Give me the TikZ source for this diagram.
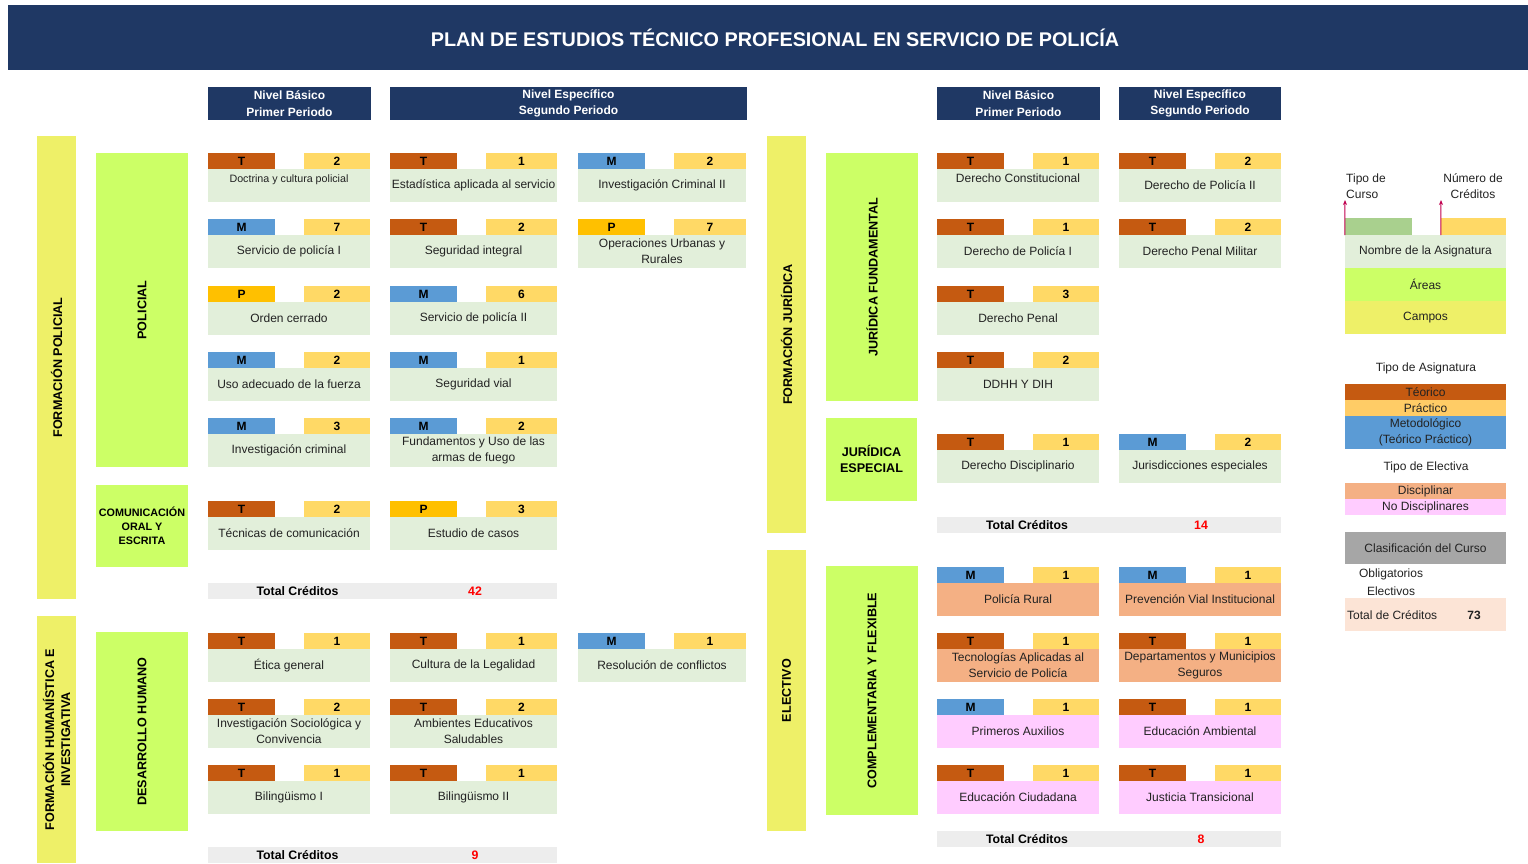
\documentclass[tikz,border=0pt]{standalone}
\usepackage{fontspec}
\setmainfont{Liberation Sans}
\usepackage{tikz}
\usetikzlibrary{arrows.meta}

\definecolor{navy}{HTML}{1F3864}
\definecolor{tipoT}{HTML}{C55A11}
\definecolor{tipoM}{HTML}{5B9BD5}
\definecolor{tipoP}{HTML}{FFC000}
\definecolor{colCred}{HTML}{FFD966}
\definecolor{colPrac}{HTML}{FFCC66}
\definecolor{colCuerpo}{HTML}{E2EFDA}
\definecolor{colArea}{HTML}{CCFF66}
\definecolor{colCampo}{HTML}{EEF068}
\definecolor{colDisc}{HTML}{F4B084}
\definecolor{colNoDisc}{HTML}{FFCCFF}
\definecolor{colGris}{HTML}{A6A6A6}
\definecolor{colTotal}{HTML}{EDEDED}
\definecolor{colVerdeT}{HTML}{A9D08E}
\definecolor{colPeach}{HTML}{FCE4D6}
\definecolor{colFlecha}{HTML}{C0004F}
\definecolor{texto}{HTML}{222222}

\tikzset{
  tag/.style={rectangle, minimum height=16, inner sep=0, text=black, font=\bfseries\fontsize{12}{13}\selectfont},
  cuerpo/.style={rectangle, minimum height=33, inner sep=0, align=center, text=texto, font=\fontsize{12}{16}\selectfont},
  arriba/.style={text height=8pt, text depth=14pt},
  campo/.style={fill=colCampo, inner sep=0, align=center, font=\bfseries\fontsize{12.6}{16}\selectfont},
  area/.style={fill=colArea, inner sep=0, align=center, font=\bfseries\fontsize{12.6}{16}\selectfont},
  encabezado/.style={fill=navy, text=white, minimum height=33, inner sep=0, align=center, font=\bfseries\fontsize{12}{16.5}\selectfont},
  totalbar/.style={fill=colTotal, minimum height=16, inner sep=0},
  totaltxt/.style={inner sep=0, font=\bfseries\fontsize{12.3}{13}\selectfont},
  totalnum/.style={totaltxt, text=red},
  leyenda/.style={rectangle, minimum width=161, inner sep=0, align=center, text=texto, font=\fontsize{12}{16.5}\selectfont},
  nota/.style={inner sep=0, align=center, text=texto, font=\fontsize{12}{16}\selectfont},
  flecha/.style={-{Stealth[length=5pt,width=4pt]}, draw=colFlecha, line width=1pt}
}

% card: [extra]{name}{x}{y}{width}{type}{credits}{subject}{body colour}
\newcommand{\curso}[9][]{%
  \node[tag, fill=tipo#6, minimum width=67] (#2t) at (#3+33.5,#4+8) {#6};
  \node[tag, fill=colCred, minimum width=#5-96] (#2c) at (#3+48+#5/2,#4+8) {#7};
  \node[cuerpo, fill=#9, minimum width=#5, #1] (#2b) at (#3+#5/2,#4+32.5) {#8};
}

\begin{document}
\begin{tikzpicture}[x=1pt,y=-1pt]
\useasboundingbox (0,0) rectangle (1528,863);

% Title
\node[fill=navy, minimum width=1520, minimum height=65, inner sep=0] (titulo) at (768,37.5) {};
\node[text=white, inner sep=0, font=\bfseries\fontsize{19.8}{22}\selectfont] (tituloTxt) at (775,38)
  {PLAN DE ESTUDIOS TÉCNICO PROFESIONAL EN SERVICIO DE POLICÍA};

% Period headers
\foreach \nom/\cx/\w/\txt in {h1/289.5/163/{Nivel Básico\\Primer Periodo}, h2/568.5/357/{Nivel Específico\\Segundo Periodo},
  h3/1018.5/163/{Nivel Básico\\Primer Periodo}, h4/1200/162/{Nivel Específico\\Segundo Periodo}}
  \node[encabezado, minimum width=\w] (\nom) at (\cx,103.5) {\txt};

% Campos
\foreach \nom/\cx/\cy/\l/\txt in {fpol/56.5/367.5/463/{FORMACIÓN POLICIAL}, fhum/56.5/739.5/247/{FORMACIÓN HUMANÍSTICA E\\INVESTIGATIVA},
  fjur/786.5/334.5/397/{FORMACIÓN JURÍDICA}, elec/786.5/690.5/281/{ELECTIVO}}
  \node[campo, rotate=90, minimum width=\l, minimum height=39] (\nom) at (\cx,\cy) {\txt};

% Areas
\foreach \nom/\cx/\cy/\l/\txt in {pol/142/310/314/{POLICIAL}, dhum/142/731.5/199/{DESARROLLO HUMANO},
  jfun/872/277/248/{JURÍDICA FUNDAMENTAL}, comp/872/690.5/249/{COMPLEMENTARIA Y FLEXIBLE}}
  \node[area, rotate=90, minimum width=\l, minimum height=92] (\nom) at (\cx,\cy) {\txt};
\node[area, minimum width=92, minimum height=82, font=\bfseries\fontsize{10.8}{14}\selectfont] (com) at (142,525.5) {COMUNICACIÓN\\ORAL Y\\ESCRITA};
\node[area, minimum width=91, minimum height=83] (jesp) at (871.5,459) {JURÍDICA\\ESPECIAL};

% Policial
\curso[arriba, font=\fontsize{10.7}{12}\selectfont]{doc}{208}{153}{162}{T}{2}{Doctrina y cultura policial}{colCuerpo}
\foreach \nom/\x/\y/\w/\tp/\cred/\txt in {
  est/390/153/167/T/1/{Estadística aplicada al servicio},
  icr/578/153/168/M/2/{Investigación Criminal II},
  sp1/208/219/162/M/7/{Servicio de policía I},
  seg/390/219/167/T/2/{Seguridad integral},
  our/578/219/168/P/7/{Operaciones Urbanas y\\Rurales},
  orc/208/286/162/P/2/{Orden cerrado},
  sp2/390/286/167/M/6/{Servicio de policía II},
  uso/208/352/162/M/2/{Uso adecuado de la fuerza},
  svi/390/352/167/M/1/{Seguridad vial},
  inv/208/418/162/M/3/{Investigación criminal},
  fun/390/418/167/M/2/{Fundamentos y Uso de las\\armas de fuego},
  tec/208/501/162/T/2/{Técnicas de comunicación},
  cas/390/501/167/P/3/{Estudio de casos}}
  {\curso{\nom}{\x}{\y}{\w}{\tp}{\cred}{\txt}{colCuerpo}}

% Desarrollo humano
\foreach \nom/\x/\y/\w/\tp/\cred/\txt in {
  eti/208/633/162/T/1/{Ética general},
  cul/390/633/167/T/1/{Cultura de la Legalidad},
  res/578/633/168/M/1/{Resolución de conflictos},
  soc/208/699/162/T/2/{Investigación Sociológica y\\Convivencia},
  amb/390/699/167/T/2/{Ambientes Educativos\\Saludables},
  bi1/208/765/162/T/1/{Bilingüismo I},
  bi2/390/765/167/T/1/{Bilingüismo II}}
  {\curso{\nom}{\x}{\y}{\w}{\tp}{\cred}{\txt}{colCuerpo}}

% Juridica
\curso[arriba]{dco}{937}{153}{162}{T}{1}{Derecho Constitucional}{colCuerpo}
\foreach \nom/\x/\y/\tp/\cred/\txt in {
  dp2/1119/153/T/2/{Derecho de Policía II},
  dp1/937/219/T/1/{Derecho de Policía I},
  dpm/1119/219/T/2/{Derecho Penal Militar},
  dpe/937/286/T/3/{Derecho Penal},
  ddh/937/352/T/2/{DDHH Y DIH},
  ddi/937/434/T/1/{Derecho Disciplinario},
  jur/1119/434/M/2/{Jurisdicciones especiales}}
  {\curso{\nom}{\x}{\y}{162}{\tp}{\cred}{\txt}{colCuerpo}}

% Electivas
\foreach \nom/\x/\y/\tp/\txt/\col in {
  pru/937/567/M/{Policía Rural}/colDisc,
  pvi/1119/567/M/{Prevención Vial Institucional}/colDisc,
  tap/937/633/T/{Tecnologías Aplicadas al\\Servicio de Policía}/colDisc,
  dms/1119/633/T/{Departamentos y Municipios\\Seguros}/colDisc,
  pau/937/699/M/{Primeros Auxilios}/colNoDisc,
  eam/1119/699/T/{Educación Ambiental}/colNoDisc,
  eci/937/765/T/{Educación Ciudadana}/colNoDisc,
  jtr/1119/765/T/{Justicia Transicional}/colNoDisc}
  {\curso{\nom}{\x}{\y}{162}{\tp}{1}{\txt}{\col}}

% Totals
\foreach \nom/\x/\y/\w/\tx/\nx/\val in {tpol/208/583/349/297.5/475/42, thum/208/847/349/297.5/475/9,
  tjur/937/517/344/1027/1201/14, telv/937/831/344/1027/1201/8}{
  \node[totalbar, minimum width=\w] (\nom) at (\x+\w/2,\y+8) {};
  \node[totaltxt] (\nom a) at (\tx,\y+8) {Total Créditos};
  \node[totalnum] (\nom b) at (\nx,\y+8) {\val};
}

% Legend
\node[leyenda, fill=colVerdeT, minimum width=67, minimum height=17] (legT) at (1378.5,226.5) {};
\node[leyenda, fill=colCred, minimum width=65, minimum height=17] (legC) at (1473.5,226.5) {};
\node[leyenda, fill=colCuerpo, minimum height=33] (legN) at (1425.5,251.5) {Nombre de la Asignatura};
\node[leyenda, fill=colArea, minimum height=33] (legA) at (1425.5,284.5) {Áreas};
\node[leyenda, fill=colCampo, minimum height=33] (legCa) at (1425.5,317.5) {Campos};
\node[nota, anchor=west, align=left] (tipoCurso) at (1346,186) {Tipo de\\Curso};
\node[nota] (numCred) at (1473,186) {Número de\\Créditos};
\coordinate (pT) at (1345,200);
\coordinate (pC) at (1441,200);
\draw[flecha] (legT.south west) -- (pT);
\draw[flecha] (legC.south west) -- (pC);

\node[nota] (tasig) at (1426,368) {Tipo de Asignatura};
\foreach \nom/\cy/\h/\col/\txt in {teo/392/16/tipoT/Téorico, pra/408/16/colPrac/Práctico,
  met/432.5/33/tipoM/{Metodológico\\(Teórico Práctico)}, dis/491/16/colDisc/Disciplinar,
  nod/507/16/colNoDisc/{No Disciplinares}, clas/548/32/colGris/{Clasificación del Curso}}
  \node[leyenda, fill=\col, minimum height=\h] (\nom) at (1425.5,\cy) {\txt};
\node[nota] (telec) at (1426,467) {Tipo de Electiva};
\node[nota] (oblig) at (1391,574) {Obligatorios};
\node[nota] (elecv) at (1391,591) {Electivos};
\node[leyenda, fill=colPeach, minimum height=33] (totLeg) at (1425.5,614.5) {};
\node[nota, anchor=west] (totLegT) at (1347,615) {Total de Créditos};
\node[nota, font=\bfseries\fontsize{12}{13}\selectfont] (totLegN) at (1474,615) {73};

\end{tikzpicture}
\end{document}
